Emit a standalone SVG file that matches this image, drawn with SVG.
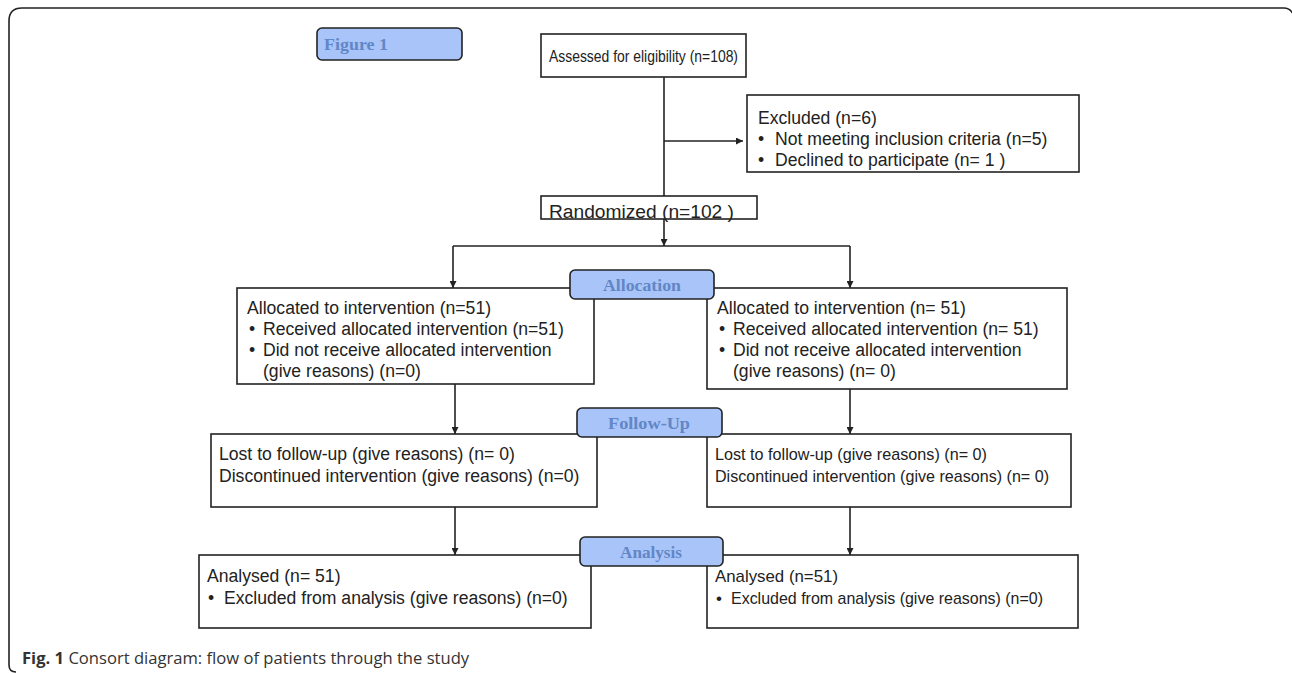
<svg xmlns="http://www.w3.org/2000/svg" width="1292" height="674" viewBox="0 0 1292 674">
<style>
.box{fill:#fff;stroke:#222;stroke-width:1.6}
.btn{fill:#a8c4f8;stroke:#222;stroke-width:1.6}
.t{font-family:"Liberation Sans",Arial,sans-serif;font-size:17.6px;fill:#222}
.s{font-size:17px}
.bt{font-family:"Liberation Serif","DejaVu Serif",serif;font-size:16px;font-weight:bold;fill:#6286c6;text-anchor:middle}
.ln{stroke:#222;stroke-width:1.6;fill:none}
.cap{font-family:"Open Sans","Noto Sans",sans-serif;font-size:16.6px;fill:#333}
</style>
<defs>
<marker id="ah" viewBox="0 0 10 10" refX="10" refY="5" markerWidth="7" markerHeight="7" markerUnits="userSpaceOnUse" orient="auto">
<path d="M0,0 L10,5 L0,10 z" fill="#222"/>
</marker>
</defs>
<rect width="1292" height="674" fill="#fff"/>
<path d="M16 672 Q9 672 9 665 L9 21 Q9 8 22 8 L1284 8 Q1290 8 1293 14" fill="none" stroke="#222" stroke-width="1.6"/>

<g id="connectors">
<path class="ln" d="M664 77 L664 196"/>
<path class="ln" d="M664 141 L743 141" marker-end="url(#ah)"/>
<path class="ln" d="M664 219 L664 246" marker-end="url(#ah)"/>
<path class="ln" d="M453 246 L850 246"/>
<path class="ln" d="M453 246 L453 288" marker-end="url(#ah)"/>
<path class="ln" d="M850 246 L850 288" marker-end="url(#ah)"/>
<path class="ln" d="M455 384 L455 434" marker-end="url(#ah)"/>
<path class="ln" d="M850 389 L850 434" marker-end="url(#ah)"/>
<path class="ln" d="M455 507 L455 555" marker-end="url(#ah)"/>
<path class="ln" d="M850 507 L850 555" marker-end="url(#ah)"/>
</g>

<g id="figure1">
<rect class="btn" x="317" y="28" width="145" height="32" rx="5"/>
<text x="324" y="50" class="bt" style="text-anchor:start" textLength="64" lengthAdjust="spacingAndGlyphs">Figure 1</text>
</g>

<g id="assessed">
<rect class="box" x="541" y="34" width="205" height="43"/>
<text x="549" y="62" class="t s" textLength="189" lengthAdjust="spacingAndGlyphs">Assessed for eligibility (n=108)</text>
</g>

<g id="excluded">
<rect class="box" x="747" y="95" width="332" height="77"/>
<text x="758" y="124" class="t">Excluded  (n=6)</text>
<text x="758" y="145" class="t">•<tspan x="775">Not meeting inclusion criteria (n=5)</tspan></text>
<text x="758" y="166" class="t">•<tspan x="775">Declined to participate (n= 1 )</tspan></text>
</g>

<g id="randomized">
<rect class="box" x="541" y="196" width="216" height="23"/>
<text x="549" y="218" class="t" textLength="185" lengthAdjust="spacingAndGlyphs">Randomized (n=102 )</text>
</g>

<g id="alloc-left">
<rect class="box" x="237" y="288" width="357" height="96"/>
<text x="247" y="314" class="t">Allocated to intervention (n=51)</text>
<text x="249" y="335" class="t">•<tspan x="263">Received allocated intervention (n=51)</tspan></text>
<text x="249" y="356" class="t">•<tspan x="263">Did not receive allocated intervention</tspan></text>
<text x="263" y="377" class="t">(give reasons) (n=0)</text>
</g>

<g id="alloc-right">
<rect class="box" x="707" y="288" width="360" height="101"/>
<text x="717" y="314" class="t">Allocated to intervention (n= 51)</text>
<text x="719" y="335" class="t">•<tspan x="733">Received allocated intervention (n= 51)</tspan></text>
<text x="719" y="356" class="t">•<tspan x="733">Did not receive allocated intervention</tspan></text>
<text x="733" y="377" class="t">(give reasons) (n= 0)</text>
</g>

<g id="allocation">
<rect class="btn" x="570" y="270" width="144" height="29" rx="5"/>
<text x="642" y="291" class="bt" textLength="78" lengthAdjust="spacingAndGlyphs">Allocation</text>
</g>

<g id="follow-left">
<rect class="box" x="211" y="434" width="386" height="73"/>
<text x="219" y="460" class="t">Lost to follow-up (give reasons) (n= 0)</text>
<text x="219" y="482" class="t">Discontinued intervention (give reasons) (n=0)</text>
</g>

<g id="follow-right">
<rect class="box" x="707" y="434" width="364" height="73"/>
<text x="715" y="460" class="t s" textLength="272" lengthAdjust="spacingAndGlyphs">Lost to follow-up (give reasons) (n= 0)</text>
<text x="715" y="482" class="t s" textLength="334" lengthAdjust="spacingAndGlyphs">Discontinued intervention (give reasons) (n= 0)</text>
</g>

<g id="followup">
<rect class="btn" x="577" y="408" width="145" height="29" rx="5"/>
<text x="649" y="429" class="bt" textLength="82" lengthAdjust="spacingAndGlyphs">Follow-Up</text>
</g>

<g id="analysis-left">
<rect class="box" x="199" y="555" width="392" height="73"/>
<text x="207" y="582" class="t">Analysed  (n= 51)</text>
<text x="208" y="604" class="t">•<tspan x="224">Excluded from analysis (give reasons) (n=0)</tspan></text>
</g>

<g id="analysis-right">
<rect class="box" x="707" y="555" width="371" height="73"/>
<text x="715" y="582" class="t s" textLength="123" lengthAdjust="spacingAndGlyphs">Analysed  (n=51)</text>
<text x="716" y="604" class="t s">•<tspan x="731" textLength="312" lengthAdjust="spacingAndGlyphs">Excluded from analysis (give reasons) (n=0)</tspan></text>
</g>

<g id="analysis">
<rect class="btn" x="580" y="537" width="143" height="29" rx="5"/>
<text x="651" y="558" class="bt" textLength="62" lengthAdjust="spacingAndGlyphs">Analysis</text>
</g>

<text x="22" y="664" class="cap"><tspan font-weight="bold">Fig. 1</tspan> Consort diagram: flow of patients through the study</text>
</svg>
